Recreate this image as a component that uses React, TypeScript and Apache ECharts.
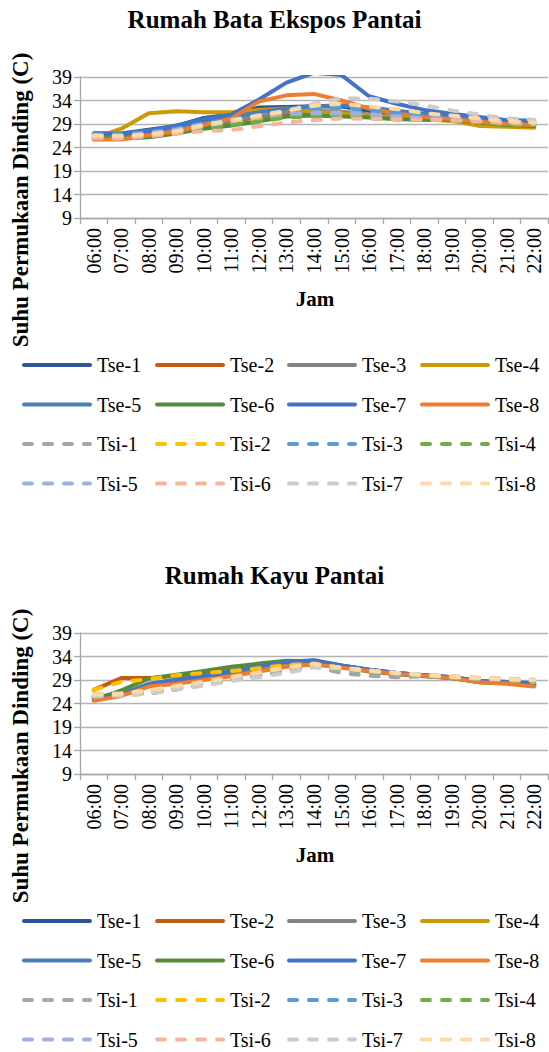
import React, { useEffect, useRef } from "react";
import * as echarts from "echarts";

// ---------- categories & axis ----------
const hours = ["06:00","07:00","08:00","09:00","10:00","11:00","12:00","13:00","14:00","15:00","16:00","17:00","18:00","19:00","20:00","21:00","22:00"];
const yMin = 9;
const yMax = 39;
const yStep = 5;

const seriesNames = ["Tse-1","Tse-2","Tse-3","Tse-4","Tse-5","Tse-6","Tse-7","Tse-8","Tsi-1","Tsi-2","Tsi-3","Tsi-4","Tsi-5","Tsi-6","Tsi-7","Tsi-8"];
const seriesColors = ["#2F5597","#C55A11","#848484","#CC9A06","#4A7EBB","#568C38","#4472C4","#ED7D31","#A5A5A5","#FFC000","#5B9BD5","#70AD47","#9DB1DF","#F4B59A","#CCCCCC","#FFD9A3"];

// ---------- Rumah Bata Ekspos Pantai ----------
const bataTse1 = [27.0,27.0,27.8,28.6,30.3,31.0,32.5,32.6,32.8,32.7,31.8,31.0,30.5,30.2,29.8,29.4,29.3];
const bataTse2 = [25.8,25.8,26.6,27.3,28.5,29.6,30.5,31.0,31.2,31.0,30.6,30.3,30.0,29.8,29.3,28.8,28.6];
const bataTse3 = [26.5,26.4,27.0,27.8,29.0,29.8,30.6,31.5,31.8,31.6,31.0,30.5,30.2,30.0,29.6,29.3,29.0];
const bataTse4 = [26.0,28.0,31.3,31.7,31.5,31.5,32.0,32.3,31.6,31.2,30.8,30.4,30.0,29.7,28.6,28.4,28.2];
const bataTse5 = [27.0,26.9,27.6,28.4,29.8,30.5,31.5,32.3,32.8,33.0,32.5,31.8,31.2,30.8,30.3,29.8,29.6];
const bataTse6 = [26.0,25.9,26.2,27.0,28.0,28.7,29.6,30.6,30.8,30.6,30.4,30.0,29.9,29.8,29.3,28.8,28.6];
const bataTse7 = [27.0,26.8,27.5,28.7,30.0,31.0,34.2,37.8,39.9,39.4,34.9,33.3,32.0,31.2,30.5,29.8,29.7];
const bataTse8 = [25.7,25.7,26.6,27.4,28.8,30.2,33.8,35.1,35.4,34.0,32.3,31.2,30.5,30.0,29.5,29.0,28.8];
const bataTsi1 = [26.6,26.5,26.8,27.5,28.6,29.4,30.4,31.2,31.6,31.5,31.2,30.8,30.4,30.2,29.8,29.5,29.3];
const bataTsi2 = [26.3,26.2,26.6,27.2,28.2,29.0,29.9,30.8,31.0,30.8,30.5,30.1,29.9,29.7,29.4,29.0,28.8];
const bataTsi3 = [26.8,26.8,27.3,28.0,29.2,29.9,30.9,31.8,32.3,32.4,32.0,31.4,30.9,30.5,30.1,29.7,29.5];
const bataTsi4 = [26.2,26.1,26.4,27.0,28.0,28.8,29.5,30.4,30.6,30.4,30.2,30.0,29.9,29.8,29.5,29.0,28.8];
const bataTsi5 = [26.7,26.6,27.0,27.8,28.9,29.7,30.6,31.2,31.3,31.3,31.0,30.6,30.3,30.1,29.8,29.5,29.3];
const bataTsi6 = [26.0,25.9,26.4,26.9,27.5,27.7,28.5,29.3,29.8,30.2,30.1,30.0,29.9,29.8,29.6,29.2,29.0];
const bataTsi7 = [26.4,26.3,26.8,27.4,28.6,29.6,30.6,31.8,33.3,34.5,34.4,33.8,33.0,31.9,31.0,30.2,29.9];
const bataTsi8 = [26.5,26.4,26.8,27.4,28.8,29.8,30.8,31.8,32.9,33.3,32.7,32.2,31.3,30.8,30.2,29.6,29.3];

// ---------- Rumah Kayu Pantai ----------
const kayuTse1 = [25.2,25.8,28.0,28.8,29.6,30.8,31.8,32.8,33.0,32.0,31.2,30.5,30.0,29.6,28.8,28.6,28.2];
const kayuTse2 = [26.9,29.4,29.4,29.9,30.4,31.0,31.6,32.2,32.6,31.9,31.0,30.4,29.9,29.4,28.6,28.4,27.8];
const kayuTse3 = [25.4,25.9,27.8,28.6,29.4,30.4,31.4,32.4,32.6,31.8,31.0,30.3,29.9,29.5,28.7,28.5,28.0];
const kayuTse4 = [25.3,25.9,28.1,29.0,29.8,30.8,31.8,32.7,32.9,32.0,31.1,30.4,29.9,29.5,28.6,28.3,27.9];
const kayuTse5 = [25.4,26.0,28.2,29.1,29.9,30.9,32.0,32.9,33.1,32.1,31.2,30.5,30.0,29.6,28.8,28.6,28.2];
const kayuTse6 = [24.7,26.8,29.3,30.1,30.9,31.8,32.5,33.1,33.0,31.8,30.8,30.2,29.8,29.4,28.5,28.4,27.8];
const kayuTse7 = [25.0,25.8,28.0,28.9,29.7,30.8,31.9,32.9,33.2,32.1,31.2,30.5,30.0,29.6,28.8,28.6,28.3];
const kayuTse8 = [24.6,25.6,27.6,28.2,29.0,29.8,30.8,31.8,32.3,31.6,30.9,30.3,29.9,29.4,28.5,28.2,27.6];
const kayuTsi1 = [25.6,25.8,26.2,27.1,27.9,29.0,30.0,31.0,31.9,30.5,29.9,29.6,29.8,29.5,29.2,29.0,28.8];
const kayuTsi2 = [26.9,28.6,29.2,30.0,30.5,30.9,31.5,32.2,32.5,31.6,31.0,30.4,30.0,29.6,29.3,29.0,28.6];
const kayuTsi3 = [25.7,25.9,26.4,27.3,28.1,29.1,30.1,31.1,32.0,31.4,30.8,30.3,30.0,29.6,29.3,29.1,28.9];
const kayuTsi4 = [25.4,25.8,26.1,27.0,27.9,28.9,29.9,31.0,31.9,31.3,30.8,30.3,30.0,29.6,29.3,29.1,28.8];
const kayuTsi5 = [25.8,26.0,26.6,27.5,28.3,29.3,30.3,31.3,32.1,31.5,30.9,30.4,30.0,29.7,29.4,29.2,29.0];
const kayuTsi6 = [26.0,26.2,26.8,27.8,28.6,29.6,30.6,31.6,32.4,31.6,31.0,30.5,30.1,29.8,29.5,29.3,29.1];
const kayuTsi7 = [25.5,25.7,26.1,27.0,27.8,28.8,29.6,30.5,31.7,31.4,30.9,30.4,30.0,29.6,29.3,29.1,28.9];
const kayuTsi8 = [25.9,26.1,26.8,27.7,28.6,29.6,30.6,31.7,32.4,31.6,31.0,30.5,30.1,29.7,29.4,29.2,29.0];

const bataSeries = [bataTse1,bataTse2,bataTse3,bataTse4,bataTse5,bataTse6,bataTse7,bataTse8,bataTsi1,bataTsi2,bataTsi3,bataTsi4,bataTsi5,bataTsi6,bataTsi7,bataTsi8];
const kayuSeries = [kayuTse1,kayuTse2,kayuTse3,kayuTse4,kayuTse5,kayuTse6,kayuTse7,kayuTse8,kayuTsi1,kayuTsi2,kayuTsi3,kayuTsi4,kayuTsi5,kayuTsi6,kayuTsi7,kayuTsi8];

const panels = [
  { title: "Rumah Bata Ekspos Pantai", values: bataSeries },
  { title: "Rumah Kayu Pantai", values: kayuSeries },
];

const yAxisTitle = "Suhu Permukaan Dinding (C)";
const xAxisTitle = "Jam";

const SERIF = "Times New Roman, Liberation Serif, serif";
const PANEL_OFFSET = 556;
const DASH = [8, 12];

function buildOption() {
  const title: any[] = [];
  const grid: any[] = [];
  const xAxis: any[] = [];
  const yAxis: any[] = [];
  const series: any[] = [];
  const legend: any[] = [];
  const graphic: any[] = [];

  const colLefts = [22, 155, 287, 420];
  const rowCenters = [365, 404.5, 444, 483.5];

  panels.forEach((p, i) => {
    const off = i * PANEL_OFFSET;
    title.push({
      text: p.title,
      left: "center",
      top: 7 + off,
      padding: 0,
      textStyle: { fontFamily: SERIF, fontSize: 25, fontWeight: "bold", color: "#000" },
    });
    grid.push({ left: 80, width: 468, top: 77 + off, height: 141, containLabel: false });
    xAxis.push({
      type: "category",
      gridIndex: i,
      data: hours,
      boundaryGap: true,
      axisLine: { lineStyle: { color: "#A6A6A6", width: 1.3 } },
      axisTick: { show: true, length: 6, lineStyle: { color: "#A6A6A6", width: 1.3 } },
      axisLabel: { rotate: 90, fontSize: 20, fontFamily: SERIF, color: "#000", margin: 10, interval: 0 },
      splitLine: { show: false },
    });
    yAxis.push({
      type: "value",
      gridIndex: i,
      min: yMin,
      max: yMax,
      interval: yStep,
      axisLine: { show: true, lineStyle: { color: "#A6A6A6", width: 1.3 } },
      axisTick: { show: true, length: 6, lineStyle: { color: "#A6A6A6", width: 1.3 } },
      axisLabel: { fontSize: 20, fontFamily: SERIF, color: "#000", margin: 8 },
      splitLine: { show: true, lineStyle: { color: "#B5B5B5", width: 1.3 } },
    });
    seriesNames.forEach((name, j) => {
      const dashed = name.startsWith("Tsi");
      series.push({
        type: "line",
        name,
        xAxisIndex: i,
        yAxisIndex: i,
        data: p.values[j],
        symbol: "none",
        silent: true,
        itemStyle: { color: seriesColors[j] },
        lineStyle: {
          color: seriesColors[j],
          width: 4,
          type: dashed ? DASH : "solid",
          cap: "round",
          join: "round",
        },
      });
      const col = j % 4;
      const row = Math.floor(j / 4);
      legend.push({
        data: [name],
        left: colLefts[col],
        top: rowCenters[row] + off - 10,
        padding: 0,
        itemWidth: 66,
        itemHeight: 20,
        selectedMode: false,
        itemStyle: { opacity: 0 },
        lineStyle: { width: 4, cap: "round" },
        textStyle: { fontFamily: SERIF, fontSize: 20, color: "#000", lineHeight: 20, padding: [0, 0, 0, 2] },
      });
    });
    graphic.push({
      type: "text",
      x: 20,
      y: 200 + off,
      rotation: Math.PI / 2,
      style: {
        text: yAxisTitle,
        font: "bold 23px " + SERIF,
        fill: "#000",
        textAlign: "center",
        textVerticalAlign: "middle",
        verticalAlign: "middle",
      },
    });
    graphic.push({
      type: "text",
      x: 315,
      y: 299 + off,
      style: {
        text: xAxisTitle,
        font: "bold 21px " + SERIF,
        fill: "#000",
        textAlign: "center",
        textVerticalAlign: "middle",
        verticalAlign: "middle",
      },
    });
  });

  return {
    animation: false,
    backgroundColor: "#fff",
    textStyle: { fontFamily: SERIF },
    title,
    grid,
    xAxis,
    yAxis,
    series,
    legend,
    graphic,
  };
}

export default function App() {
  const ref = useRef<HTMLDivElement>(null);
  useEffect(() => {
    if (!ref.current) return;
    const chart = echarts.init(ref.current, undefined, { renderer: "svg" });
    chart.setOption(buildOption() as any);
    return () => chart.dispose();
  }, []);
  return (
    <div
      ref={ref}
      style={{ position: "absolute", left: 0, top: 0, width: 549, height: 1052, background: "#fff" }}
    />
  );
}
